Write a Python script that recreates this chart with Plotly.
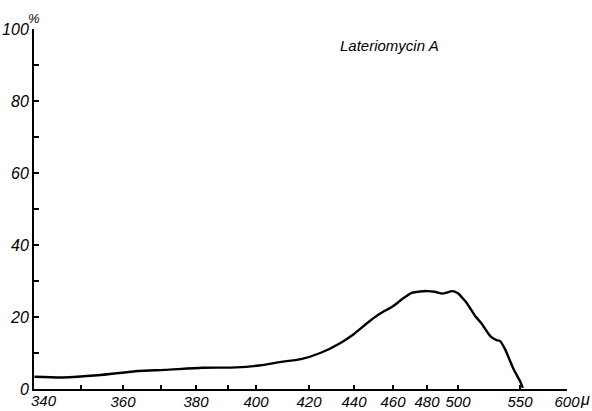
import numpy as np
import plotly.graph_objects as go

# Data (wavelength in mμ, absorption in %)
WAVELENGTH = [340, 346, 354, 364, 371, 382, 393, 403, 410, 417, 425, 434, 440, 447,
              453, 460, 466, 471, 476, 480, 485, 490, 493, 496, 500, 503, 507, 514,
              519, 526, 531, 534, 538, 545, 550, 553]
PERCENT = [3.4, 3.2, 3.8, 5.0, 5.3, 5.9, 6.0, 6.7, 7.6, 8.3, 10.0, 12.8, 15.3, 18.4,
           20.8, 23.0, 25.2, 26.7, 27.1, 27.2, 27.0, 26.5, 26.8, 27.2, 26.6, 25.5, 23.9, 20.2,
           18.2, 14.7, 13.6, 13.3, 11.0, 5.4, 2.2, 0.3]

# Non-linear wavelength scale of the original paper (tick wavelength -> scale position)
SCALE_NM = [340, 350, 360, 370, 380, 390, 400, 420, 440, 460, 480, 500, 550, 600]
SCALE_POS = [34.5, 81, 123, 161, 196, 228, 256, 309, 354, 393, 427, 458, 520, 567]
LABELED = [360, 380, 400, 420, 440, 460, 480, 500, 550, 600]
FIRST_LABEL = 340
Y_LABELS = [0, 20, 40, 60, 80, 100]


def to_scale(nm):
    return np.interp(nm, SCALE_NM, SCALE_POS)


xs = to_scale(np.array(WAVELENGTH, dtype=float))

fig = go.Figure()
fig.add_trace(go.Scatter(
    x=xs, y=PERCENT, mode="lines",
    line=dict(color="black", width=2.4, shape="spline", smoothing=0.6),
    hoverinfo="skip", showlegend=False,
))

fig.update_layout(
    width=592, height=411,
    margin=dict(l=34, r=25, t=29, b=22),
    paper_bgcolor="white", plot_bgcolor="white",
    font=dict(family="Liberation Sans", color="black", size=15, style="italic"),
    xaxis=dict(
        range=[34, 567],
        automargin=False,
        tickmode="array",
        tickvals=list(to_scale(np.array(SCALE_NM, dtype=float))),
        ticktext=[str(v) if v in LABELED else "" for v in SCALE_NM],
        ticks="inside", ticklen=4, tickwidth=1.5, tickcolor="black",
        showline=True, linecolor="black", linewidth=2,
        showgrid=False, zeroline=False,
        ticklabelstandoff=-2,
        tickfont=dict(size=15, family="Liberation Sans", style="italic"),
        fixedrange=True,
    ),
    yaxis=dict(
        range=[0, 100],
        automargin=False,
        tickmode="array",
        tickvals=Y_LABELS,
        ticktext=[str(v) for v in Y_LABELS],
        ticks="inside", ticklen=5, tickwidth=1.5, tickcolor="black",
        minor=dict(dtick=10, ticks="inside", ticklen=5, tickwidth=1.5, tickcolor="black"),
        showline=True, linecolor="black", linewidth=2,
        showgrid=False, zeroline=False,
        tickfont=dict(size=16, family="Liberation Sans", style="italic"),
        fixedrange=True,
    ),
    annotations=[
        dict(text=str(FIRST_LABEL), xref="x", yref="paper",
             x=float(to_scale(FIRST_LABEL)), y=0.0, xanchor="left", yanchor="top",
             showarrow=False, xshift=-6, yshift=-1,
             font=dict(size=15, family="Liberation Sans", style="italic")),
        dict(text="%", xref="paper", yref="paper", x=0.0, y=1.0, xanchor="center",
             yanchor="bottom", showarrow=False, yshift=1,
             font=dict(size=13, family="Liberation Sans")),
        dict(text="μ", xref="paper", yref="paper", x=1.0, y=0.0, xanchor="left",
             yanchor="top", showarrow=False, xshift=11, yshift=0,
             font=dict(size=16, family="Liberation Sans", style="italic")),
        dict(text="Lateriomycin A", xref="paper", yref="paper", x=0.667, y=0.955,
             xanchor="center", yanchor="middle", showarrow=False,
             font=dict(size=15, family="Liberation Sans", style="italic")),
    ],
)

fig.write_html("out.html")
